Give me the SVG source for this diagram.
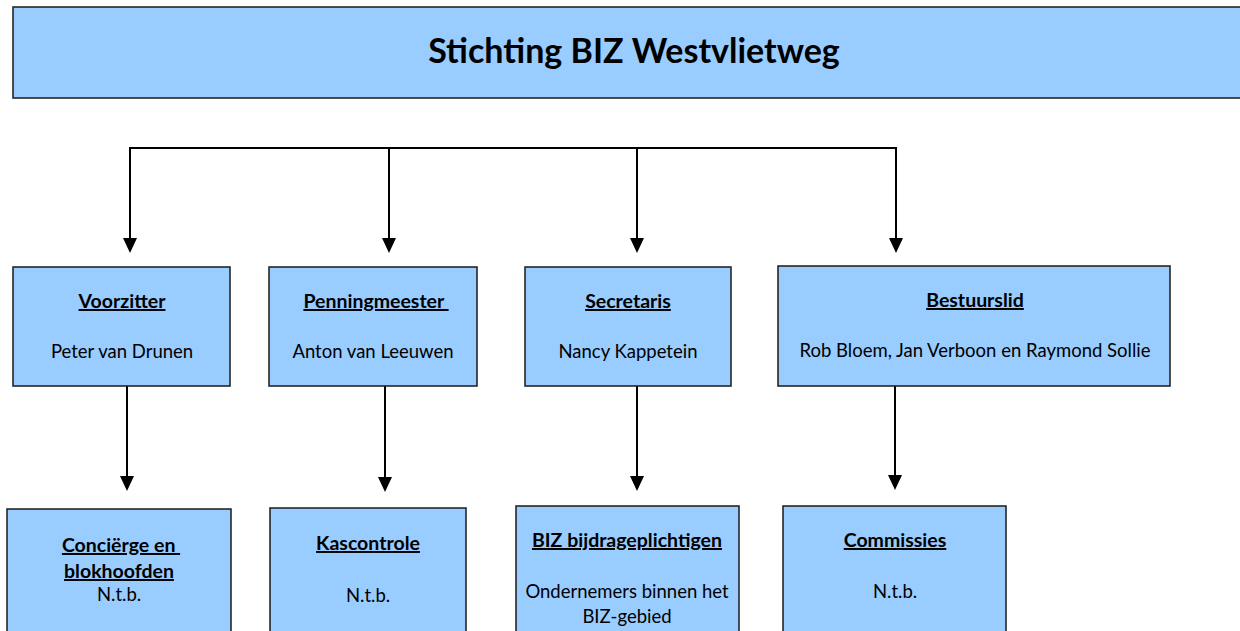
<svg xmlns="http://www.w3.org/2000/svg" width="1240" height="631" viewBox="0 0 1240 631">
<style>
.box{fill:#99ccff;stroke:#1a1a1a;stroke-width:1.5}
.t{font-family:Lato,"Liberation Sans",sans-serif;fill:#000;text-anchor:middle}
.h{font-weight:bold;font-size:19.5px;text-decoration:underline}
.n{font-size:18.5px}
.c{stroke:#000;stroke-width:2;fill:none}
</style>
<g id="title">
<rect class="box" x="13" y="7" width="1240" height="91"/>
<text class="t" x="634" y="63" font-size="34" font-weight="bold">Stichting BIZ Westvlietweg</text>
</g>
<g id="connectors">
<path class="c" d="M130,240 V148 H896 V240"/>
<path class="c" d="M389,148 V240 M637,148 V240"/>
<path d="M123,238 L137,238 L130,253 Z M382,238 L396,238 L389,253 Z M630,238 L644,238 L637,253 Z M889,238 L903,238 L896,253 Z"/>
<path class="c" d="M127,386 V478 M385,386 V478 M637,386 V478 M895,384 V478"/>
<path d="M120,476 L134,476 L127,491 Z M378,477 L392,477 L385,492 Z M630,476 L644,476 L637,491 Z M888,475 L902,475 L895,490 Z"/>
</g>
<g id="voorzitter">
<rect class="box" x="13" y="267" width="217" height="119"/>
<text class="t h" x="122" y="308">Voorzitter</text>
<text class="t n" x="122" y="358">Peter van Drunen</text>
</g>
<g id="penningmeester">
<rect class="box" x="269" y="267" width="208" height="119"/>
<text class="t h" x="376" y="308">Penningmeester&#160;</text>
<text class="t n" x="373" y="358">Anton van Leeuwen</text>
</g>
<g id="secretaris">
<rect class="box" x="525" y="267" width="206" height="119"/>
<text class="t h" x="628" y="308">Secretaris</text>
<text class="t n" x="628" y="358">Nancy Kappetein</text>
</g>
<g id="bestuurslid">
<rect class="box" x="778" y="266" width="392" height="120"/>
<text class="t h" x="975" y="307">Bestuurslid</text>
<text class="t n" x="975" y="357">Rob Bloem, Jan Verboon en Raymond Sollie</text>
</g>
<g id="concierge">
<rect class="box" x="7" y="509" width="224" height="140"/>
<text class="t h" x="121" y="552">Conciërge en&#160;</text>
<text class="t h" x="119" y="578">blokhoofden</text>
<text class="t n" x="119" y="601">N.t.b.</text>
</g>
<g id="kascontrole">
<rect class="box" x="270" y="508" width="196" height="140"/>
<text class="t h" x="368" y="550">Kascontrole</text>
<text class="t n" x="368" y="602">N.t.b.</text>
</g>
<g id="biz">
<rect class="box" x="516" y="506" width="223" height="140"/>
<text class="t h" x="627" y="547">BIZ bijdrageplichtigen</text>
<text class="t n" x="627" y="598">Ondernemers binnen het</text>
<text class="t n" x="627" y="623">BIZ-gebied</text>
</g>
<g id="commissies">
<rect class="box" x="783" y="506" width="223" height="140"/>
<text class="t h" x="895" y="547">Commissies</text>
<text class="t n" x="895" y="598">N.t.b.</text>
</g>
</svg>
